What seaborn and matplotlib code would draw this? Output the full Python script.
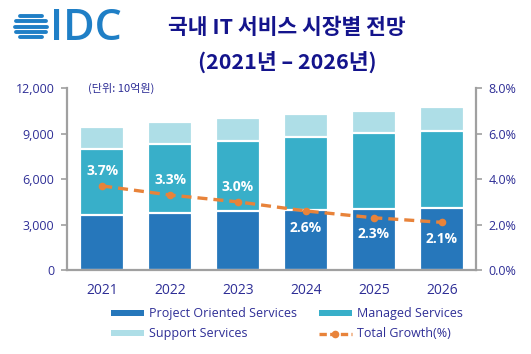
import matplotlib
matplotlib.use('Agg')
import matplotlib.pyplot as plt
import seaborn as sns
import numpy as np
import pandas as pd
from matplotlib.lines import Line2D
from matplotlib.patches import Patch

years = ['2021', '2022', '2023', '2024', '2025', '2026']
project = [3650, 3760, 3870, 3960, 4020, 4070]
managed = [4330, 4570, 4660, 4830, 4990, 5120]
support = [1470, 1410, 1510, 1500, 1500, 1580]
growth = [3.7, 3.3, 3.0, 2.6, 2.3, 2.1]
growth_labels = ['3.7%', '3.3%', '3.0%', '2.6%', '2.3%', '2.1%']
label_above = [True, True, True, False, False, False]
left_ticks = [0, 3000, 6000, 9000, 12000]
left_ticklabels = ['0', '3,000', '6,000', '9,000', '12,000']
right_ticks = [0, 2, 4, 6, 8]
right_ticklabels = ['0.0%', '2.0%', '4.0%', '6.0%', '8.0%']

C_PROJ = '#2677BB'
C_MAN = '#38AFC9'
C_SUP = '#AEDEE7'
C_LINE = '#E8833A'
NAVY = '#2E2E96'
TITLE = '#14148C'
GRAY = '#A0A0A0'

sns.set_theme(style='white')
plt.rcParams['font.family'] = ['Open Sans', 'Noto Sans CJK KR', 'DejaVu Sans']

df = pd.DataFrame({'year': years, 'project': project, 'managed': managed, 'support': support})
df['pm'] = df['project'] + df['managed']
df['total'] = df['pm'] + df['support']

fig = plt.figure(figsize=(5.31, 3.54), dpi=100)
ax = fig.add_axes([0.126, 0.237, 0.770, 0.514])

kw = dict(width=0.65, edgecolor='white', linewidth=1.6, ax=ax, saturation=1)
sns.barplot(data=df, x='year', y='total', color=C_SUP, **kw)
sns.barplot(data=df, x='year', y='pm', color=C_MAN, **kw)
sns.barplot(data=df, x='year', y='project', color=C_PROJ, **kw)

ax.set_ylim(0, 12000)
ax.set_xlim(-0.52, 5.5)
ax.set_yticks(left_ticks)
ax.set_yticklabels(left_ticklabels)
ax.set_xlabel('')
ax.set_ylabel('')
ax.tick_params(axis='y', which='both', left=True, length=4, width=1.2, color=GRAY,
               labelsize=9, labelcolor=NAVY, pad=5)
ax.tick_params(axis='x', length=0, labelsize=10, labelcolor=NAVY, pad=9)
for s in ['top', 'right']:
    ax.spines[s].set_visible(False)
for s in ['left', 'bottom']:
    ax.spines[s].set_color(GRAY)
    ax.spines[s].set_linewidth(1.6)

ax2 = ax.twinx()
xpos = np.arange(len(years))
sns.lineplot(x=xpos, y=growth, ax=ax2, color=C_LINE, linewidth=2.4,
             linestyle=(0, (3, 1.8)), marker='o', markersize=5.5,
             markeredgewidth=0, markerfacecolor=C_LINE)
ax2.set_ylim(0, 8)
ax2.set_xlim(-0.52, 5.5)
ax2.set_yticks(right_ticks)
ax2.set_yticklabels(right_ticklabels)
ax2.tick_params(axis='y', which='both', right=True, length=4, width=1.2, color=GRAY,
                labelsize=9, labelcolor=NAVY, pad=5)
for s in ['top', 'left', 'bottom']:
    ax2.spines[s].set_visible(False)
ax2.spines['right'].set_color(GRAY)
ax2.spines['right'].set_linewidth(1.6)
ax2.set_ylabel('')

for x, g, lab, up in zip(xpos, growth, growth_labels, label_above):
    ax2.annotate(lab, (x, g), xytext=(0, 11 if up else -12), textcoords='offset points',
                 ha='center', va='center', color='white', fontsize=10, fontweight='bold')

handles = [
    Patch(facecolor=C_PROJ, edgecolor='none', label='Project Oriented Services'),
    Patch(facecolor=C_SUP, edgecolor='none', label='Support Services'),
    Patch(facecolor=C_MAN, edgecolor='none', label='Managed Services'),
    Line2D([0], [0], color=C_LINE, linewidth=2.4, linestyle=(0, (2.2, 1.0)), marker='o',
           markersize=5.5, markeredgewidth=0, label='Total Growth(%)'),
]
leg = fig.legend(handles=handles, ncol=2, loc='center', bbox_to_anchor=(0.54, 0.085),
                 frameon=False, fontsize=9, handlelength=2.6, handleheight=0.4,
                 handletextpad=0.4, columnspacing=1.8, labelspacing=0.55)
for t in leg.get_texts():
    t.set_color(NAVY)

# titles
fig.text(0.541, 1 - 27 / 354, '국내 IT 서비스 시장별 전망', ha='center', va='center',
         fontsize=15.5, fontweight='bold', color=TITLE, family=['Noto Sans CJK KR'])
fig.text(0.541, 1 - 62 / 354, '(2021년 – 2026년)', ha='center', va='center',
         fontsize=15.5, fontweight='bold', color=TITLE, family=['Noto Sans CJK KR', 'DejaVu Sans'])
fig.text(88 / 531, 1 - 88 / 354, '(단위: 10억원)', ha='left', va='center',
         fontsize=8, color=NAVY, family=['Noto Sans CJK KR'])

# IDC logo
LOGO = '#1F7FC6'
r = 14.0
for dy in [-10.5, -5.25, 0, 5.25, 10.5]:
    hw = np.sqrt(max(r ** 2 - dy ** 2, 0)) + 2.0
    yy = 1 - (26.5 + dy) / 354
    fig.add_artist(Line2D([(31 - hw) / 531, (31 + hw) / 531], [yy, yy],
                          transform=fig.transFigure, color=LOGO, linewidth=2.8,
                          solid_capstyle='round'))
fig.text(50 / 531, 1 - 28 / 354, 'IDC', ha='left', va='center', fontsize=31,
         fontweight='semibold', color=LOGO, family=['Open Sans'])

fig.savefig('out.png', dpi=100)
